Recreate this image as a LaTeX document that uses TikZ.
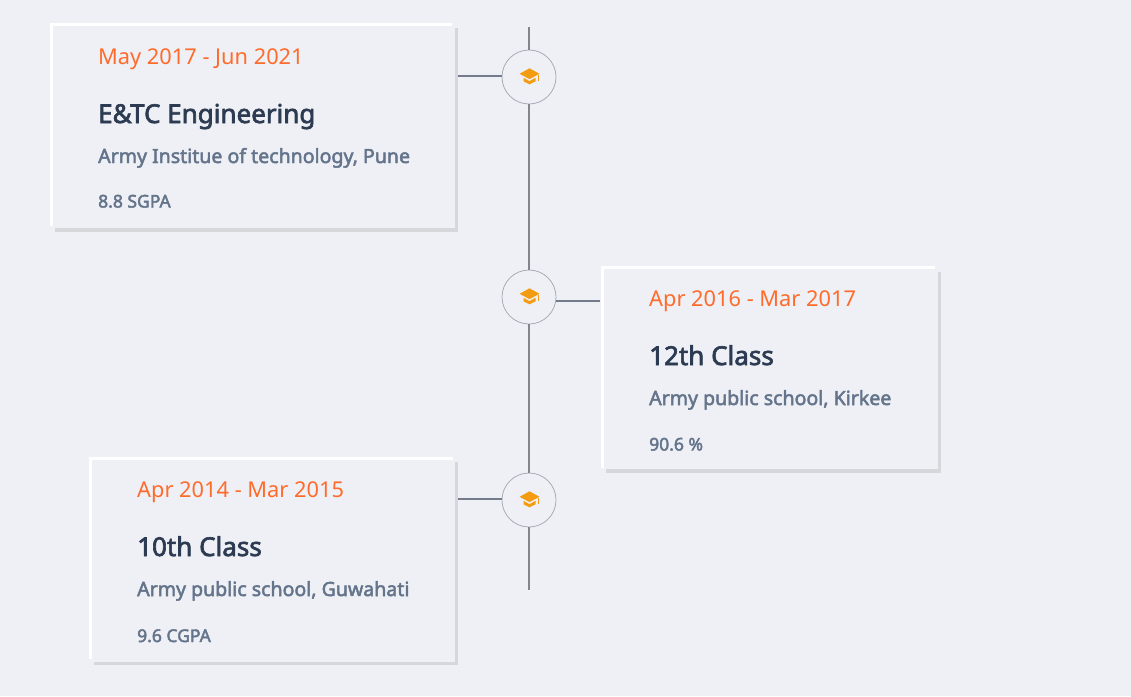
\documentclass[tikz,border=0pt]{standalone}
\usepackage{fontspec}
\setmainfont{Noto Sans}
\newfontfamily\medfont[FakeBold=2.5]{Noto Sans}
\definecolor{bg}{HTML}{EEF0F5}
\definecolor{datec}{HTML}{FF6B2B}
\definecolor{titlec}{HTML}{2D3B52}
\definecolor{subc}{HTML}{64748B}
\definecolor{shadowc}{HTML}{D5D7DB}
\definecolor{axisc}{HTML}{82858C}
\definecolor{linkc}{HTML}{747C8C}
\definecolor{ringc}{HTML}{A6ACB8}
\definecolor{capc}{HTML}{F39C12}
\tikzset{
  x=1pt,y=-1pt,
  datetext/.style={anchor=base west,inner sep=0pt,text=datec,font=\fontsize{21.8}{24}\selectfont},
  titletext/.style={anchor=base west,inner sep=0pt,text=titlec,font=\medfont\fontsize{26}{28}\selectfont},
  subtext/.style={anchor=base west,inner sep=0pt,text=subc,font=\medfont\fontsize{19.55}{22}\selectfont},
  scoretext/.style={anchor=base west,inner sep=0pt,text=subc,font=\medfont\fontsize{17.5}{20}\selectfont},
  whiteedge/.style={draw=white,line width=3.6pt},
  shadowedge/.style={draw=shadowc,line width=3.6pt},
  axisline/.style={draw=axisc,line width=2pt},
  linkline/.style={draw=linkc,line width=2pt},
  marker/.style={circle,draw=ringc,line width=0.8pt,fill=bg,minimum size=54pt,inner sep=0pt},
  capshape/.style={fill=capc,draw=none}
}
\newcommand{\gradcap}[1]{%
  \begin{scope}[shift={(#1)},yshift=0.7pt,xshift=0.5pt]
  \fill[capshape] (-10,-2.5) -- (0,-8) -- (10,-2.5) -- (0,2.8) -- cycle;
  \fill[capshape] (-6,1.5) -- (0,4.8) -- (6,1.5) -- (6,5) -- (0,8) -- (-6,5) -- cycle;
  \fill[capshape] (8.6,-1.5) rectangle (9.8,5);
  \end{scope}
}
\begin{document}
\begin{tikzpicture}
\useasboundingbox (0,0) rectangle (1131,696);
\fill[bg] (0,0) rectangle (1131,696);
% cards
\draw[shadowedge] (456.5,28) -- (456.5,230) -- (55,230);
\draw[whiteedge] (51.5,226) -- (51.5,24.5) -- (452,24.5);
\draw[shadowedge] (939.5,272) -- (939.5,471) -- (606,471);
\draw[whiteedge] (602.5,468) -- (602.5,267.3) -- (934.5,267.3);
\draw[shadowedge] (456.5,462) -- (456.5,663.5) -- (94,663.5);
\draw[whiteedge] (90.5,659) -- (90.5,458.5) -- (453,458.5);
% markers
\node[marker] (m1) at (529,77) {};
\node[marker] (m2) at (529,297) {};
\node[marker] (m3) at (529,500) {};
\coordinate (axistop) at (529,27);
\coordinate (axisend) at (529,590);
\coordinate (c1) at (458,76);
\coordinate (c2) at (600,301);
\coordinate (c3) at (458,499);
\draw[axisline] (axistop) -- (m1);
\draw[axisline] (m1) -- (m2);
\draw[axisline] (m2) -- (m3);
\draw[axisline] (m3) -- (axisend);
\draw[linkline] (c1) -- (m1.west |- c1);
\draw[linkline] (c2) -- (m2.east |- c2);
\draw[linkline] (c3) -- (m3.west |- c3);
\gradcap{529,77}
\gradcap{529,297}
\gradcap{529,500}
% card 1
\node[datetext] (d1) at (98,64) {May 2017 - Jun 2021};
\node[titletext] (t1) at (98,123) {E\&TC Engineering};
\node[subtext] (s1) at (98,163) {Army Institue of technology, Pune};
\node[scoretext] (g1) at (98,207.5) {8.8 SGPA};
% card 2
\node[datetext] (d2) at (649,306) {Apr 2016 - Mar 2017};
\node[titletext] (t2) at (649,365) {12th Class};
\node[subtext] (s2) at (649,405) {Army public school, Kirkee};
\node[scoretext] (g2) at (649,450.5) {90.6 \%};
% card 3
\node[datetext] (d3) at (137,497) {Apr 2014 - Mar 2015};
\node[titletext] (t3) at (137,556) {10th Class};
\node[subtext] (s3) at (137,596) {Army public school, Guwahati};
\node[scoretext] (g3) at (137,642) {9.6 CGPA};
\end{tikzpicture}
\end{document}
